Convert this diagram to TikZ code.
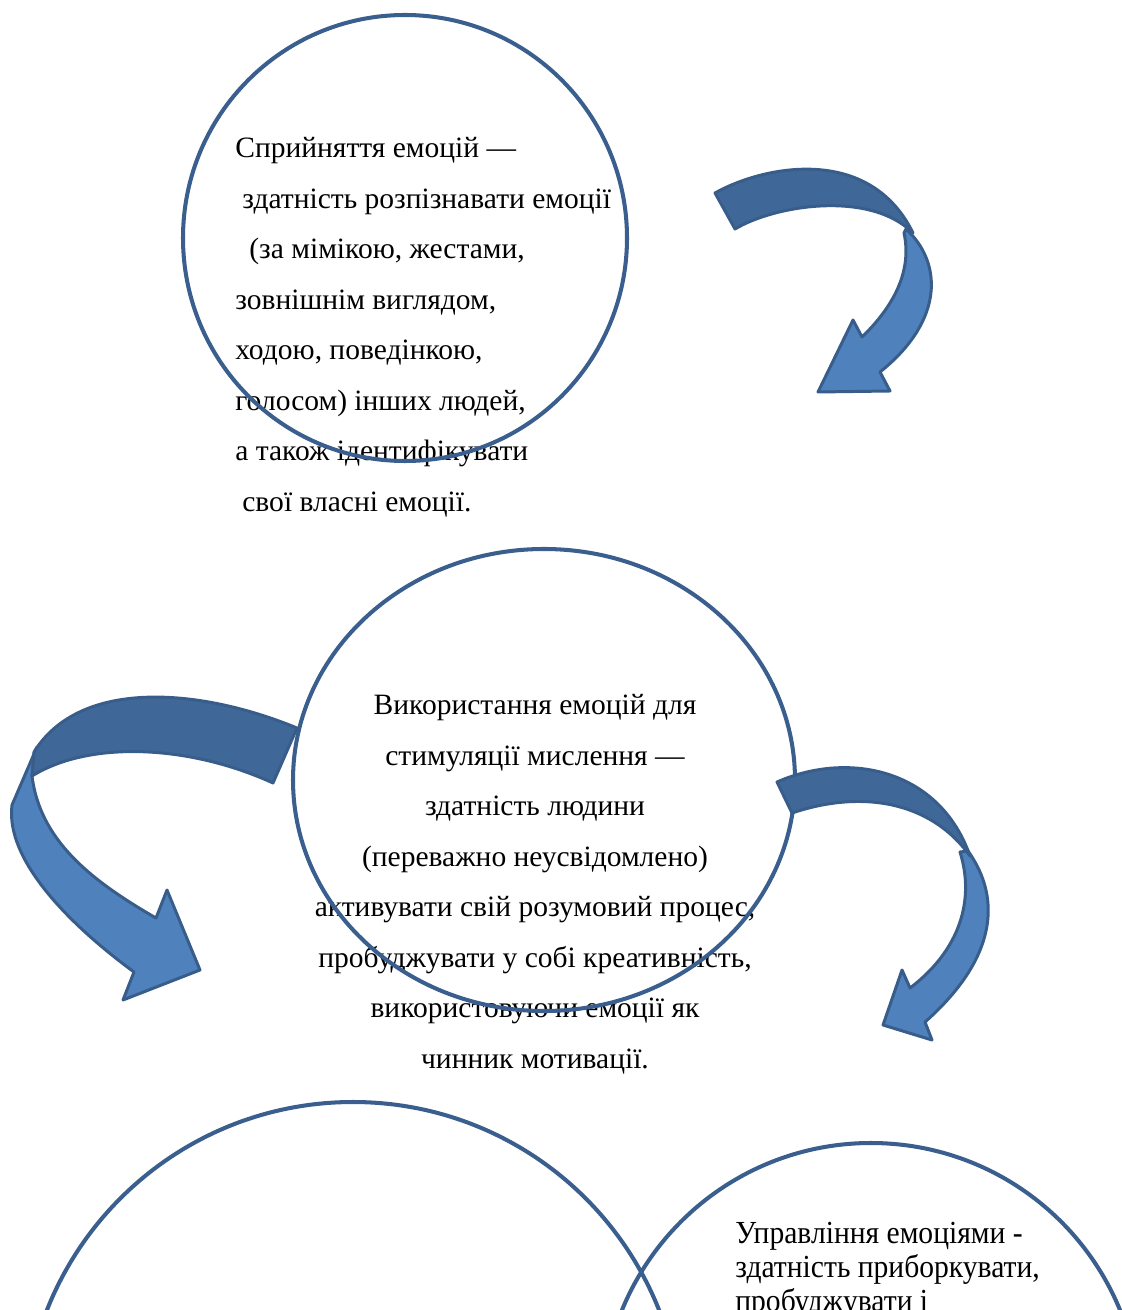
\documentclass[tikz,border=0pt]{standalone}
\usepackage{fontspec}
\setmainfont{Liberation Serif}
\newfontfamily\narrowserif[FakeStretch=0.92]{Liberation Serif}
\usepackage{xcolor}
\usepackage{tikz}
\usetikzlibrary{positioning}

\definecolor{ringblue}{HTML}{3A5F8E}
\definecolor{arrowline}{HTML}{385D8A}
\definecolor{arrowdark}{HTML}{3F6898}
\definecolor{arrowlight}{HTML}{4F81BD}

\tikzset{
    ring/.style={draw=ringblue, line width=2.3pt},
    backband/.style={fill=arrowdark, draw=arrowline, line width=1.7pt, line join=round},
    frontband/.style={fill=arrowlight, draw=arrowline, line width=1.7pt, line join=round},
    bodytext/.style={inner sep=0pt, font=\fontsize{16.8}{28.75}\selectfont},
    plaintext/.style={inner sep=0pt, font=\narrowserif\fontsize{18.3}{19.3}\selectfont}
}

\begin{document}
\begin{tikzpicture}[x=0.02cm, y=-0.02cm]
        \useasboundingbox (0,0) rectangle (1121,1310);

        % Texts
        \node[bodytext, anchor=north west, align=left] (perception) at (235,137)
            {Сприйняття емоцій —\\
             \hspace*{4pt}здатність розпізнавати емоції\\
             \hspace*{8pt}(за мімікою, жестами,\\
             зовнішнім виглядом,\\
             ходою, поведінкою,\\
             голосом) інших людей,\\
             а також ідентифікувати\\
             \hspace*{4pt}свої власні емоції.};
        \node[bodytext, anchor=north, align=center] (usage) at (535,694)
            {Використання емоцій для\\
             стимуляції мислення —\\
             здатність людини\\
             (переважно неусвідомлено)\\
             активувати свій розумовий процес,\\
             пробуджувати у собі креативність,\\
             використовуючи емоції як\\
             чинник мотивації.};
        \node[plaintext, anchor=north west, align=left] (management) at (735,1222)
            {Управління емоціями -\\
             здатність приборкувати,\\
             пробуджувати і};

        % Circles
        \draw[ring] (405,238) ellipse [x radius=222, y radius=223];
        \draw[ring] (544,780) ellipse [x radius=251, y radius=231];
        \draw[ring] (353,1431) circle [radius=329];
        \draw[ring] (871,1412) circle [radius=269];

        % Arrow, top right
        \draw[frontband] (906,229) .. controls (942,262) and (945,320) .. (880,372)
            -- (890,391) -- (818,392) -- (853,320) -- (862,337)
            .. controls (895,305) and (912,270) .. (904,233) -- cycle;
        \draw[backband] (715,193) .. controls (765,165) and (870,145) .. (913,233)
            .. controls (870,190) and (775,205) .. (735,229) -- cycle;

        % Arrow, left
        \draw[frontband] (37,747) -- (12,805) .. controls (5,860) and (70,925) .. (134,972)
            -- (123,1000) -- (200,970) -- (167,890) -- (156,918)
            .. controls (90,880) and (40,840) .. (32,776) -- cycle;
        \draw[backband] (297,728) .. controls (200,688) and (80,678) .. (34,752)
            -- (32,776) .. controls (90,740) and (190,745) .. (273,783) -- cycle;

        % Arrow, right
        \draw[frontband] (968,851) .. controls (1003,900) and (995,960) .. (925,1022)
            -- (932,1040) -- (883,1025) -- (902,970) -- (910,988)
            .. controls (960,950) and (975,900) .. (960,852) -- cycle;
        \draw[backband] (777,782) .. controls (850,750) and (940,770) .. (970,856)
            .. controls (930,800) and (860,790) .. (792,813) -- cycle;
\end{tikzpicture}
\end{document}
